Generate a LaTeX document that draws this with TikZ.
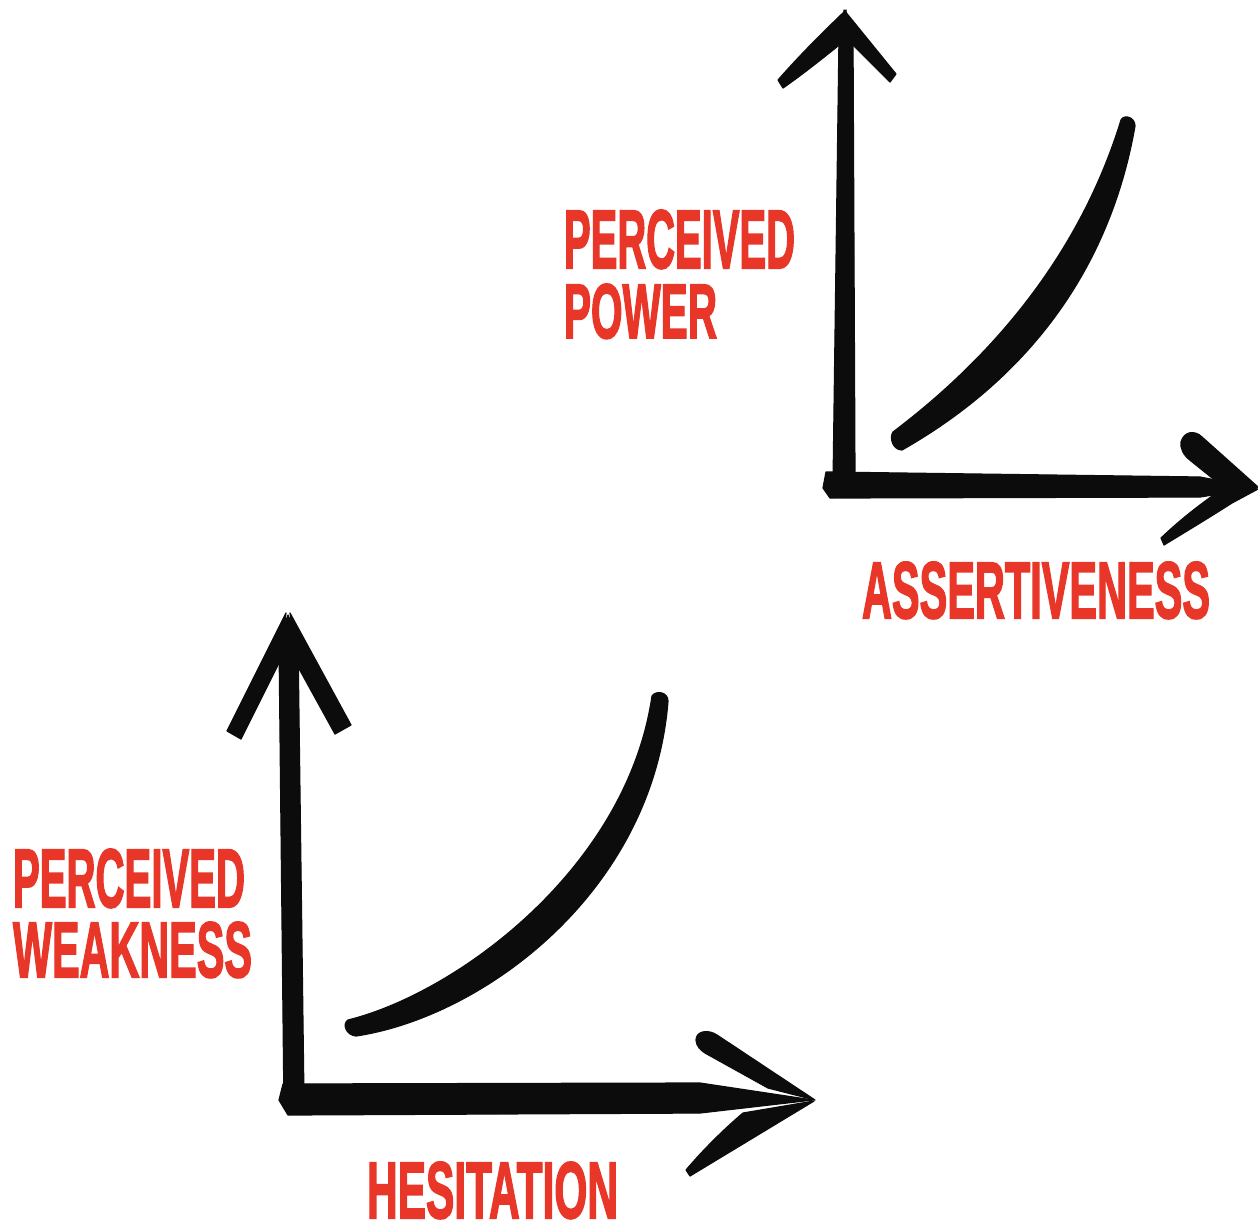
\documentclass[tikz,border=0pt]{standalone}
\usepackage{fontspec}
\setmainfont{Liberation Sans}
\newfontfamily\lblfont[FakeBold=2.5]{Liberation Sans Bold}
\usetikzlibrary{calc}
\definecolor{lbl}{RGB}{232,54,40}
\definecolor{ink}{RGB}{12,12,12}
\begin{document}
\begin{tikzpicture}[x=1pt,y=-1pt,
  lab/.style={anchor=base west, inner sep=0pt, outer sep=0pt, text=lbl, font=\lblfont},
  inkfill/.style={fill=ink, draw=ink, line width=1.2pt, line join=round}]
\fill[white] (0,0) rectangle (1258,1224);
\useasboundingbox (0,0) rectangle (1258,1224);

% ---------------- chart 1 (top right) ----------------
\coordinate (O1) at (845,487);
\coordinate (Y1) at (846,12);
\coordinate (X1) at (1257,488);
% vertical axis
\fill[inkfill] ($(O1)+(-12,-2)$) -- ($(Y1)+(-7,25)$) -- (Y1) -- ($(Y1)+(7,25)$) -- ($(O1)+(10,-10)$) -- cycle;
% horizontal axis
\fill[inkfill] ($(O1)+(-19,-15)$) -- ($(X1)+(-57,-11)$) -- (X1) -- ($(X1)+(-57,9)$) -- ($(O1)+(-15,11)$) -- ($(O1)+(-22,1)$) -- cycle;
% arrowhead up
\begin{scope}[shift={(Y1)}]
  \fill[inkfill] (0,-2) .. controls (-26,23) and (-46,43) .. (-68,68) -- (-63,76) .. controls (-40,60) and (-18,42) .. (2,26) -- cycle;
  \fill[inkfill] (-2,-2) -- (50,62) -- (44,70) -- (-2,24) -- cycle;
\end{scope}
% arrowhead right
\begin{scope}[shift={(X1)}]
  \fill[inkfill] (-76,-46) .. controls (-73,-57) and (-62,-58) .. (-55,-51) -- (1,-1) -- (-25,6) -- (-66,-27) .. controls (-74,-33) and (-77,-40) .. (-76,-46) -- cycle;
  \fill[inkfill] (1,1) -- (-25,15) .. controls (-50,31) and (-75,46) .. (-93,57) -- (-96,50) .. controls (-75,30) and (-55,15) .. (-35,1) -- cycle;
\end{scope}
% curve
\fill[inkfill] (902,450) .. controls (1006,391) and (1106,291) .. (1135,126) .. controls (1135,117) and (1124,114) .. (1121,120) .. controls (1075,270) and (975,370) .. (893,432) .. controls (889,438) and (893,450) .. (902,450) -- cycle;

% labels
\node[lab] (pp1) at (564,268) {\resizebox{231pt}{58pt}{PERCEIVED}};
\node[lab] (pw1) at (564,338) {\resizebox{153pt}{54pt}{POWER}};
\node[lab] (as1) at (862,618) {\resizebox{348pt}{56pt}{ASSERTIVENESS}};

% ---------------- chart 2 (bottom left) ----------------
\coordinate (O2) at (293,1098);
\coordinate (Y2) at (288,615);
\coordinate (X2) at (813,1100);
% vertical axis
\fill[inkfill] ($(Y2)+(-9,25)$) -- (Y2) -- ($(Y2)+(10,25)$) -- ($(O2)+(11,2)$) -- ($(O2)+(-9,10)$) -- cycle;
% horizontal axis
\fill[inkfill] ($(O2)+(-10,-14)$) -- ($(X2)+(-113,-17)$) -- (X2) -- ($(X2)+(-113,13)$) -- ($(O2)+(-5,17)$) -- ($(O2)+(-14,2)$) -- cycle;
% arrowhead up
\begin{scope}[shift={(Y2)}]
  \fill[inkfill] (-2,-2) -- (-61,116) -- (-47,124) -- (-8,46) -- cycle;
  \fill[inkfill] (2,-2) -- (63,110) -- (47,119) -- (9,50) -- cycle;
\end{scope}
% arrowhead right
\begin{scope}[shift={(X2)}]
  \fill[inkfill] (-117,-60) .. controls (-117,-69) and (-105,-71) .. (-96,-65) -- (2,0) -- (-45,-12) -- (-108,-47) .. controls (-113,-50) and (-117,-55) .. (-117,-60) -- cycle;
  \fill[inkfill] (1,1) -- (-123,76) -- (-127,70) .. controls (-110,50) and (-90,30) .. (-70,13) -- cycle;
\end{scope}
% curve
\fill[inkfill] (356,1036) .. controls (483,1017) and (653,892) .. (668,701) .. controls (668,692) and (656,690) .. (652,696) .. controls (627,868) and (457,993) .. (348,1020) .. controls (342,1024) and (346,1035) .. (356,1036) -- cycle;

% labels
\node[lab] (pp2) at (13,907) {\resizebox{232pt}{58pt}{PERCEIVED}};
\node[lab] (wk2) at (13,977) {\resizebox{239pt}{55pt}{WEAKNESS}};
\node[lab] (hs2) at (367,1218) {\resizebox{251pt}{56pt}{HESITATION}};
\end{tikzpicture}
\end{document}
